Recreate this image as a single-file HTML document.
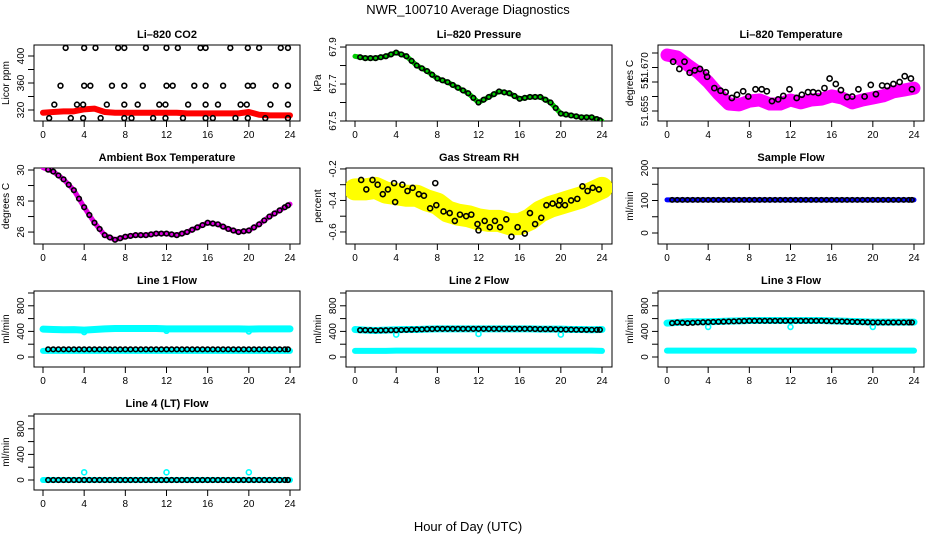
<!DOCTYPE html>
<html><head><meta charset="utf-8"><style>
html,body{margin:0;padding:0;background:#fff}
svg{display:block;font-family:"Liberation Sans",sans-serif}
</style></head><body>
<svg id="c" width="936" height="540" viewBox="0 0 936 540" xmlns="http://www.w3.org/2000/svg">
<text x="468" y="14" text-anchor="middle" font-size="13">NWR_100710  Average Diagnostics</text>
<text x="468" y="531" text-anchor="middle" font-size="13">Hour of Day (UTC)</text>
</svg>
<script>
const hours = [0,1,2,3,4,5,6,7,8,9,10,11,12,13,14,15,16,17,18,19,20,21,22,23,24];
const xTicks = [0,4,8,12,16,20,24];
const halfHours = [0.5,1,1.5,2,2.5,3,3.5,4,4.5,5,5.5,6,6.5,7,7.5,8,8.5,9,9.5,10,10.5,11,11.5,12,12.5,13,13.5,14,14.5,15,15.5,16,16.5,17,17.5,18,18.5,19,19.5,20,20.5,21,21.5,22,22.5,23,23.5,23.8];

// Li-820 CO2
const co2Band = [316,317,318,318,321,322,317,316,316,316,316,316,316,316,315,315,315,315,315,315,317,313,312,312,312];
const co2PtsH = [2.2,4,5.1,7.3,7.9,10,12,13.1,15.3,15.8,18.2,19.9,21,23.1,23.8, 1.7,4,4.6,6.7,7.9,9.7,12,12.6,14.7,15.8,17.5,19.9,20.4,22.6,23.8, 1.1,3.3,3.9,6.2,7.9,9.2,11.3,11.9,14.1,15.8,17,19.2,19.8,22.1,23.8, 0.6,2.7,3.9,5.6,7.9,8.6,10.7,11.9,13.6,15.8,16.5,18.7,19.9,21.6,23.8];
const co2PtsV = [412,412,412,412,412,412,412,412,412,412,412,412,412,412,412, 356,356,356,356,356,356,356,356,356,356,356,356,356,356,356, 328,328,328,328,328,328,328,328,328,328,328,328,328,328,328, 308,308,308,308,308,308,308,308,308,308,308,308,308,308,308];

// Li-820 Pressure
const presBand = [67.85,67.84,67.84,67.85,67.87,67.85,67.80,67.77,67.73,67.71,67.68,67.65,67.60,67.63,67.66,67.65,67.62,67.63,67.63,67.60,67.54,67.53,67.52,67.52,67.50];

// Li-820 Temperature
const tempBand = [51.6743,51.6736,51.6709,51.6684,51.6650,51.6609,51.6574,51.6571,51.6584,51.6588,51.6574,51.6574,51.6588,51.6578,51.6588,51.6591,51.6602,51.6595,51.6578,51.6588,51.6595,51.6602,51.6616,51.6622,51.6629];
const tempPtsH = [0.6,1.2,1.7,2.2,2.7,3.2,3.8,3.9,4.6,5.2,5.7,6.3,6.8,7.4,7.9,8.6,9.2,9.7,10.2,10.8,11.3,11.9,12.6,13.1,13.7,14.2,14.7,15.3,15.8,16.4,16.9,17.5,18,18.6,19.2,19.8,20.3,20.9,21.4,22,22.6,23.1,23.7,23.8];
const tempPtsV = [51.6720,51.6695,51.6720,51.6682,51.6690,51.6695,51.6683,51.6668,51.6629,51.6620,51.6615,51.6595,51.6606,51.6618,51.6600,51.6625,51.6625,51.6618,51.6584,51.6590,51.6602,51.6625,51.6595,51.6606,51.6615,51.6615,51.6612,51.6629,51.6662,51.6643,51.6622,51.6598,51.6600,51.6625,51.6600,51.6640,51.6608,51.6638,51.6636,51.6643,51.6650,51.6670,51.6662,51.6625];

// Ambient Box Temperature
const ambBand = [30.15,29.9,29.4,28.7,27.6,26.6,25.8,25.5,25.7,25.8,25.8,25.9,25.9,25.8,26.0,26.3,26.6,26.5,26.2,26.0,26.1,26.5,27.0,27.4,27.8];

// Gas Stream RH
const rhBand = [-0.33,-0.33,-0.32,-0.35,-0.36,-0.37,-0.37,-0.40,-0.42,-0.47,-0.49,-0.50,-0.52,-0.53,-0.53,-0.55,-0.55,-0.52,-0.47,-0.44,-0.42,-0.40,-0.38,-0.35,-0.32];
const rhPtsH = [0.6,1.1,1.7,2.2,2.7,3.2,3.8,3.9,4.6,5.1,5.6,6.2,6.7,7.3,7.8,7.9,8.6,9.2,9.7,10.2,10.8,11.3,11.9,12,12.6,13.1,13.6,14.1,14.7,15.2,15.8,16.5,17,17.5,18.1,18.6,19.2,19.8,19.9,20.4,21,21.6,22.1,22.6,23.1,23.7];
const rhPtsV = [-0.27,-0.33,-0.27,-0.30,-0.36,-0.33,-0.29,-0.41,-0.30,-0.34,-0.32,-0.36,-0.37,-0.45,-0.29,-0.43,-0.47,-0.48,-0.53,-0.49,-0.50,-0.49,-0.55,-0.59,-0.53,-0.57,-0.53,-0.57,-0.52,-0.63,-0.57,-0.61,-0.48,-0.55,-0.51,-0.43,-0.42,-0.43,-0.40,-0.43,-0.40,-0.39,-0.31,-0.34,-0.32,-0.33];

// Sample Flow
const sampleBand = [102,102,102,102,102,102,102,102,102,102,102,102,102,102,102,102,102,102,102,102,102,102,102,102,102];

// Line flows
const line1High = [435,430,425,428,420,430,440,445,445,445,445,445,440,440,440,440,440,440,440,440,435,440,440,440,440];
const line1Low = [95,95,95,95,95,95,95,95,95,95,95,95,95,95,95,95,95,95,95,95,95,95,95,95,95];
const line1Black = [120,120,120,120,120,120,120,120,120,120,120,120,120,120,120,120,120,120,120,120,120,120,120,120,120];
const line2High = [430,420,415,420,425,430,430,435,440,440,440,440,440,440,440,440,440,440,435,435,435,430,430,425,430];
const line2Low = [95,95,95,95,100,100,100,100,100,100,100,100,100,100,100,100,100,100,100,100,100,100,100,100,95];
const line2Black = [420,420,415,418,420,425,430,435,440,440,440,440,440,440,440,440,440,440,435,435,430,428,425,425,425];
const line3High = [530,540,550,550,550,555,560,565,570,570,570,570,570,570,570,570,565,560,555,550,545,545,545,545,545];
const line3Low = [100,100,100,100,100,100,100,100,100,100,100,100,100,100,100,100,100,100,100,100,100,100,100,100,100];
const line3Black = [520,540,530,540,545,550,555,560,565,565,565,565,565,565,565,565,560,555,550,545,540,540,540,540,540];
const line4Cyan = [0,0,0,0,0,0,0,0,0,0,0,0,0,0,0,0,0,0,0,0,0,0,0,0,0];
const line4Black = [0,0,0,0,0,0,0,0,0,0,0,0,0,0,0,0,0,0,0,0,0,0,0,0,0];
const outlierH = [4,12,20];
const line1Out = [390,410,400];
const line2Out = [350,360,350];
const line3Out = [470,470,470];
const line4Out = [120,120,120];

const NS = 'http://www.w3.org/2000/svg';
const svg = document.getElementById('c');
function mk(tag, attrs, parent){const e=document.createElementNS(NS,tag);for(const k in attrs)e.setAttribute(k,attrs[k]);(parent||svg).appendChild(e);return e;}
const colLeft=[34,346,658], rowTop=[45,168,291,414], W=266, H=76;

function panel(c,r,name,title,ylab,ymin,ymax,yt,ylabs){
  const L=colLeft[c],T=rowTop[r];
  const g=mk('g',{});
  
  
  const xs=h=>L+9+h*(247/24), ys=v=>T+(ymax-v)/(ymax-ymin)*H;
  const t=mk('text',{x:L+W/2,y:T-7,'text-anchor':'middle','font-size':'11','font-weight':'bold'},g);t.textContent=title;
  
  
  const box=mk('rect',{x:L,y:T,width:W,height:H,fill:'none',stroke:'#000','stroke-width':1},g);
  
  
  mk('line',{x1:xs(0),x2:xs(24),y1:T+H,y2:T+H,stroke:'#000'},g);
  xTicks.forEach(h=>{mk('line',{x1:xs(h),x2:xs(h),y1:T+H,y2:T+H+6,stroke:'#000'},g);
    const tx=mk('text',{x:xs(h),y:T+H+17,'text-anchor':'middle','font-size':'10'},g);tx.textContent=h;
    
    });
  yt.forEach((v,i)=>{mk('line',{x1:L-6,x2:L,y1:ys(v),y2:ys(v),stroke:'#000'},g);
    if(ylabs[i]!==''){const x=L-10,y=ys(v);const tx=mk('text',{x:x,y:y,'text-anchor':'middle','font-size':'10',transform:`rotate(-90 ${x} ${y})`},g);tx.textContent=ylabs[i];
      
      }});
  const ax=L-25,ay=T+H/2;
  const yl=mk('text',{x:ax,y:ay,'text-anchor':'middle','font-size':'10',transform:`rotate(-90 ${ax} ${ay})`},g);yl.textContent=ylab;
  
  
  const clip='cl'+c+r;const cp=mk('clipPath',{id:clip},g);mk('rect',{x:L,y:T,width:W,height:H},cp);
  const dg=mk('g',{'clip-path':`url(#${clip})`},g);
  return {band(hs,vs,color,w){const p=mk('polyline',{points:hs.map((h,i)=>xs(h)+','+ys(vs[i])).join(' '),fill:'none',stroke:color,'stroke-width':w,'stroke-linejoin':'round','stroke-linecap':'round'},dg);
      
      },
    pts(hs,vs,color,rad){hs.forEach((h,i)=>{const ci=mk('circle',{cx:xs(h),cy:ys(vs[i]),r:rad||2.6,fill:'none',stroke:color,'stroke-width':1.6},dg);
      
      });},
    dense(vs,color,rad){const hh=[],vv=[];for(let k=0;k<halfHours.length;k++){const h=halfHours[k];const i=Math.min(24,Math.floor(h));const f=h-i;const v=i<24?vs[i]*(1-f)+vs[i+1]*f:vs[24];hh.push(h);vv.push(v);}this.pts(hh,vv,color,rad);}};
}
const lineT=[0,200,400,600,800,1000], lineL=['0','','400','','800',''];

let p=panel(0,0,'co2-panel','Li\u2013820 CO2','Licor ppm',303.7,416.3,[320,340,360,380,400],['320','','360','','400']);
p.band(hours,co2Band,'#f00',6);p.pts(co2PtsH,co2PtsV,'#000',2.4);

p=panel(1,0,'pressure-panel','Li\u2013820 Pressure','kPa',67.5,67.911,[67.5,67.6,67.7,67.8,67.9],['67.5','','67.7','','67.9']);
p.band(hours,presBand,'#0c0',5);p.dense(presBand,'#000',2.3);

p=panel(2,0,'temperature-panel','Li\u2013820 Temperature','degrees C',51.65155,51.67776,[51.655,51.66,51.665,51.67,51.675],['51.655','','51.','51.670','']);
p.band(hours,tempBand,'#f0f',13);p.pts(tempPtsH,tempPtsV,'#000',2.6);

p=panel(0,1,'ambient-temp-panel','Ambient Box Temperature','degrees C',25.23,30.13,[26,27,28,29,30],['26','','28','','30']);
p.band(hours,ambBand,'#e000e0',5);p.dense(ambBand,'#000',2.3);

p=panel(1,1,'gas-rh-panel','Gas Stream RH','percent',-0.6765,-0.194,[-0.6,-0.5,-0.4,-0.3,-0.2],['-0.6','','-0.4','','-0.2']);
p.band(hours,rhBand,'#ff0',22);p.pts(rhPtsH,rhPtsV,'#000',2.5);

p=panel(2,1,'sample-flow-panel','Sample Flow','ml/min',-33.8,200,[0,50,100,150,200],['0','','100','','200']);
p.band(hours,sampleBand,'#0000ff',5);p.dense(sampleBand,'#000',2.2);

p=panel(0,2,'line1-flow-panel','Line 1 Flow','ml/min',-156,1031,lineT,lineL);
p.band(hours,line1High,'#0ff',7);p.band(hours,line1Low,'#0ff',6);p.pts(outlierH,line1Out,'#0ff',2.5);p.dense(line1Black,'#000',2.3);

p=panel(1,2,'line2-flow-panel','Line 2 Flow','ml/min',-156,1031,lineT,lineL);
p.band(hours,line2High,'#0ff',7);p.band(hours,line2Low,'#0ff',6);p.pts(outlierH,line2Out,'#0ff',2.5);p.dense(line2Black,'#000',2.3);

p=panel(2,2,'line3-flow-panel','Line 3 Flow','ml/min',-156,1031,lineT,lineL);
p.band(hours,line3High,'#0ff',7);p.band(hours,line3Low,'#0ff',6);p.pts(outlierH,line3Out,'#0ff',2.5);p.dense(line3Black,'#000',2.3);

p=panel(0,3,'line4-flow-panel','Line 4 (LT) Flow','ml/min',-156,1031,lineT,lineL);
p.band(hours,line4Cyan,'#0ff',6);p.pts(outlierH,line4Out,'#0ff',2.5);p.dense(line4Black,'#000',2.3);
</script>
</body></html>
